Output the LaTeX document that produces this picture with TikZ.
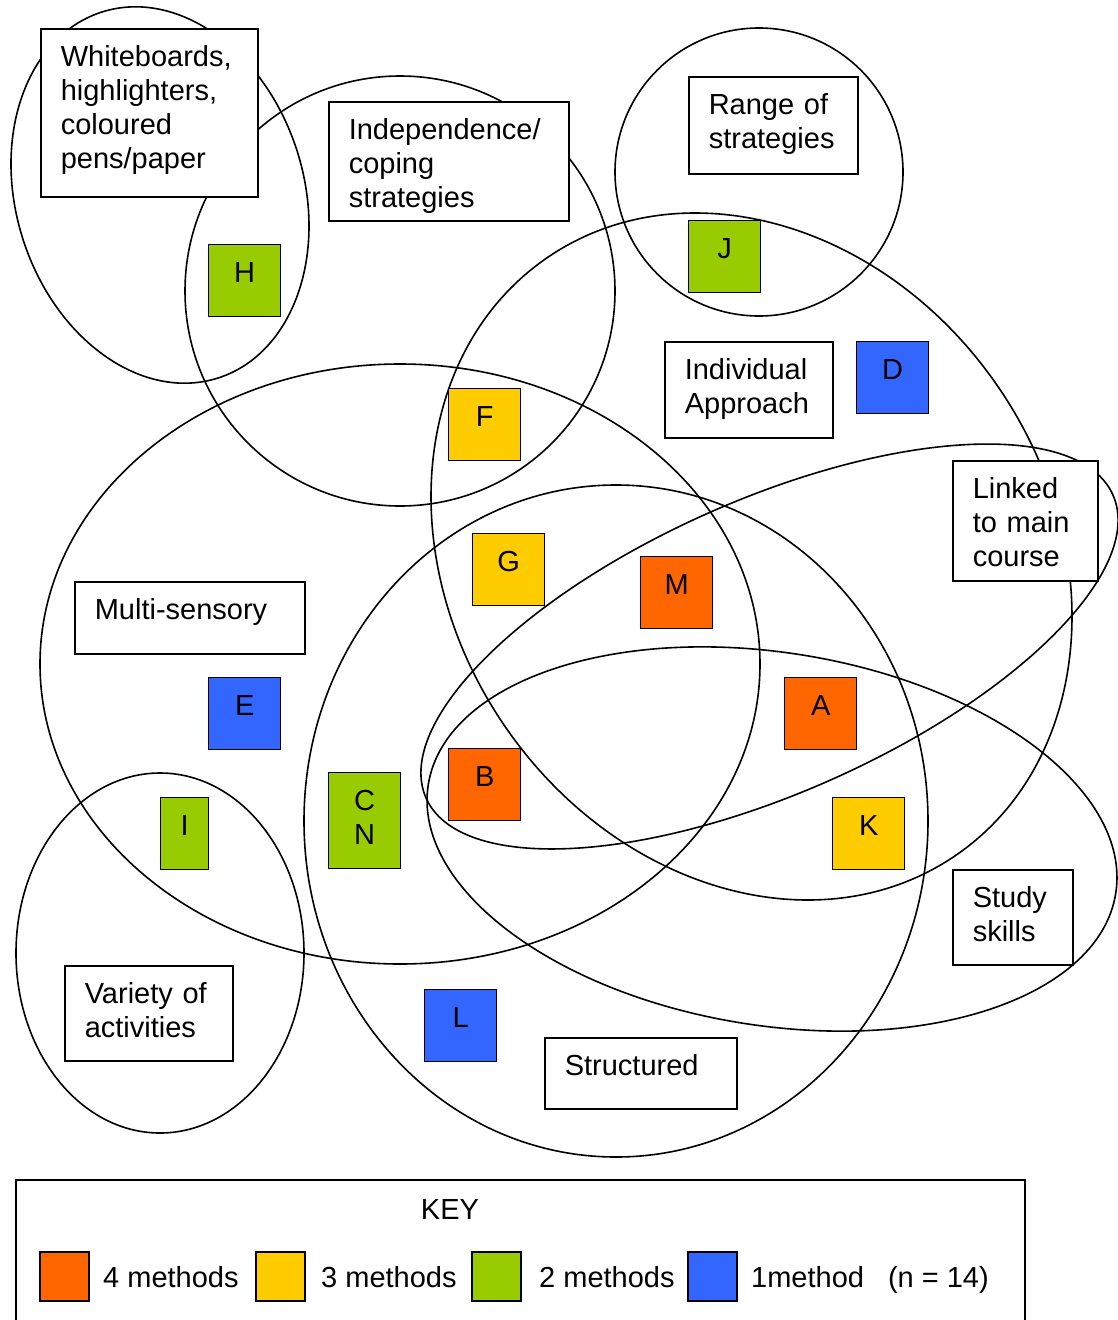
\documentclass[tikz,border=0pt]{standalone}
\usepackage{fontspec}
\setmainfont{Liberation Sans}
\usepackage{tikz}
\definecolor{four}{HTML}{FF6600}
\definecolor{three}{HTML}{FFCC00}
\definecolor{two}{HTML}{99CC00}
\definecolor{one}{HTML}{3366FF}
\newcommand{\labelsize}{\fontsize{29}{34}\selectfont}

\begin{document}
\begin{tikzpicture}[x=1pt, y=-1pt, every node/.style={font=\labelsize},
	venn/.style={line width=1.6pt},
	tag/.style={draw, fill=white, line width=1.6pt, anchor=north west, inner xsep=20pt, inner ysep=0pt, align=left, text height=38pt},
	sq/.style={draw, fill=#1, line width=1.4pt, anchor=north west, inner sep=0pt, minimum width=72pt, text height=38pt, text depth=34pt},
	keysq/.style={draw, fill=#1, line width=1.4pt, minimum size=49pt, inner sep=0pt}]
		\useasboundingbox (0,0) rectangle (1117,1320);
		
		\draw[venn, rotate around={17.5:(160,195)}] (160,195) ellipse [x radius=144, y radius=192];
		\draw[venn] (400,291) circle [radius=215];
		\draw[venn] (759,172) circle [radius=144];
		\draw[venn, rotate around={-55.8:(751.5,556.5)}] (751.5,556.5) ellipse [x radius=362, y radius=299.4];
		\draw[venn] (400,664) ellipse [x radius=360, y radius=300];
		\draw[venn] (616,821) ellipse [x radius=312, y radius=336];
		\draw[venn, rotate around={23.8:(769.5,646.5)}] (769.5,646.5) ellipse [x radius=375.4, y radius=146.8];
		\draw[venn, rotate around={-9:(772,839)}] (772,839) ellipse [x radius=348, y radius=186.5];
		\draw[venn] (160,953) ellipse [x radius=144, y radius=180];
		
		\node[tag, text width=177pt, text depth=130pt](WB) at (40,28){Whiteboards,\\highlighters,\\coloured\\pens/paper};
		\node[tag, text width=200pt, text depth=81pt](IND) at (328,101){Independence/\\coping\\strategies};
		\node[tag, text width=129pt, text depth=59pt](RNG) at (688,76){Range of\\strategies};
		\node[tag, text width=128pt, text depth=58pt](IA) at (664,341){Individual\\Approach};
		\node[tag, text width=105pt, text depth=82pt](LNK) at (952,460){Linked\\to main\\course};
		\node[tag, text width=190pt, text depth=34pt](MS) at (74,581){Multi-sensory};
		\node[tag, text width=80pt, text depth=57pt](SS) at (952,869){Study\\skills};
		\node[tag, text width=128pt, text depth=57pt](VA) at (64,965){Variety of\\activities};
		\node[tag, text width=152pt, text depth=33pt](ST) at (544,1037){Structured};
		
		\node[sq=two](H) at (208,244){H};
		\node[sq=two](J) at (688,220){J};
		\node[sq=one](D) at (856,341){D};
		\node[sq=three](F) at (448,388){F};
		\node[sq=three](G) at (472,533){G};
		\node[sq=four](M) at (640,556){M};
		\node[sq=one](E) at (208,677){E};
		\node[sq=four](A) at (784,677){A};
		\node[sq=four](B) at (448,748){B};
		\node[sq=two, minimum width=48pt](I) at (160,797){I};
		\node[sq=two, text depth=58pt, text width=72pt, align=center](CN) at (328,772){C\\N};
		\node[sq=three](K) at (832,797){K};
		\node[sq=one](L) at (424,989){L};
		
		\draw[line width=1.6pt] (16,1320) |- (1025,1180) -- (1025,1320);
		\node[anchor=base](KEY) at (450,1219){KEY};
		\node[keysq=four](KY4) at (64.5,1276.5){};
		\node[keysq=three, right of=KY4, node distance=216pt](KY3){};
		\node[keysq=two, right of=KY3, node distance=216pt](KY2){};
		\node[keysq=one, right of=KY2, node distance=216pt](KY1){};
		\node[anchor=base west, inner sep=0pt](T4) at (103,1287){4 methods};
		\node[anchor=base west, inner sep=0pt](T3) at (321,1287){3 methods};
		\node[anchor=base west, inner sep=0pt](T2) at (539,1287){2 methods};
		\node[anchor=base west, inner sep=0pt](T1) at (751,1287){1method\hspace{24pt}(n = 14)};
\end{tikzpicture}
\end{document}
